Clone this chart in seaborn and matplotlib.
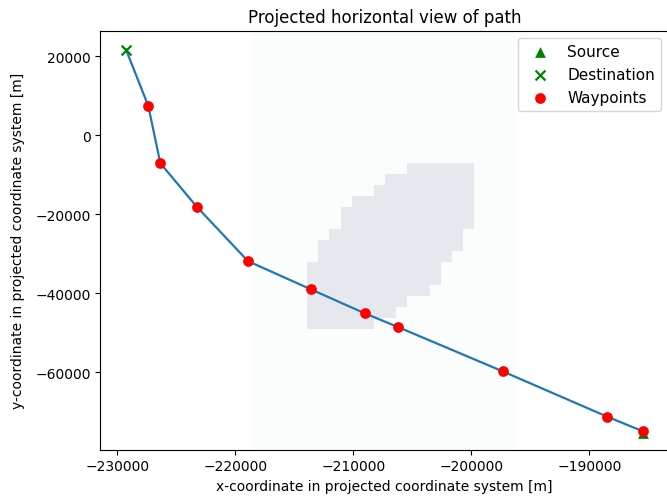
import numpy as np
import matplotlib
matplotlib.use("Agg")
import matplotlib.pyplot as plt
from matplotlib.colors import ListedColormap
import seaborn as sns

# path data (projected coordinates, metres)
source = (-185449, -75023)
destination = (-229263, 21663)
waypoints_x = [-227373, -226356, -223271, -218924, -213610, -209034,
               -206212, -197314, -188500, -185449]
waypoints_y = [7365, -7111, -18134, -31924, -39035, -45130,
               -48610, -59861, -71289, -75023]

# obstacle raster: per column, first and last+1 occupied row (row 0 = top)
obstacle_col_top = [9, 7, 6, 4, 3, 3, 2, 1, 1, 0, 0, 0, 0, 0, 0]
obstacle_col_bottom = [15, 15, 15, 15, 15, 15, 14, 14, 13, 12, 12, 11, 9, 8, 6]
obstacle_x_range = (-213907, -199746)
obstacle_y_range = (-6959, -49117)

# faint extent of the raster domain
domain_x_range = (-218585, -196127)

fig = plt.figure(figsize=(6.67, 5.02), dpi=100)
ax = fig.add_axes([0.1504, 0.1022, 0.8523, 0.835])

ax.axvspan(*domain_x_range, color="#fbfcfc", lw=0, zorder=0)

ncols = len(obstacle_col_top)
grid = np.zeros((15, ncols))
for c, (t, b) in enumerate(zip(obstacle_col_top, obstacle_col_bottom)):
    grid[t:b, c] = 1
xe = np.linspace(*obstacle_x_range, ncols + 1)
ye = np.linspace(*obstacle_y_range, 16)
ax.pcolormesh(xe, ye, np.ma.masked_equal(grid, 0),
              cmap=ListedColormap(["#e6e8ed"]), zorder=1)

path_x = [destination[0]] + waypoints_x + [source[0]]
path_y = [destination[1]] + waypoints_y + [source[1]]
sns.lineplot(x=path_x, y=path_y, sort=False, estimator=None, ax=ax,
             color="#1f77b4", lw=1.6, zorder=2)

sns.scatterplot(x=[source[0]], y=[source[1] - 300], marker="^", color="green",
                s=60, linewidth=0, label="Source", ax=ax, zorder=3)
sns.scatterplot(x=[destination[0]], y=[destination[1]], marker="x",
                color="green", s=50, linewidth=1.6, label="Destination",
                ax=ax, zorder=3)
sns.scatterplot(x=waypoints_x, y=waypoints_y, marker="o", color="red",
                s=60, linewidth=0, label="Waypoints", ax=ax, zorder=4)

ax.set_xlim(-231441, -183263)
ax.set_ylim(-79670, 26488)
ax.set_title("Projected horizontal view of path")
ax.set_xlabel("x-coordinate in projected coordinate system [m]")
ax.set_ylabel("y-coordinate in projected coordinate system [m]", labelpad=7)
ax.legend(loc="upper right", fontsize=11)

fig.savefig("out.png", dpi=100)
